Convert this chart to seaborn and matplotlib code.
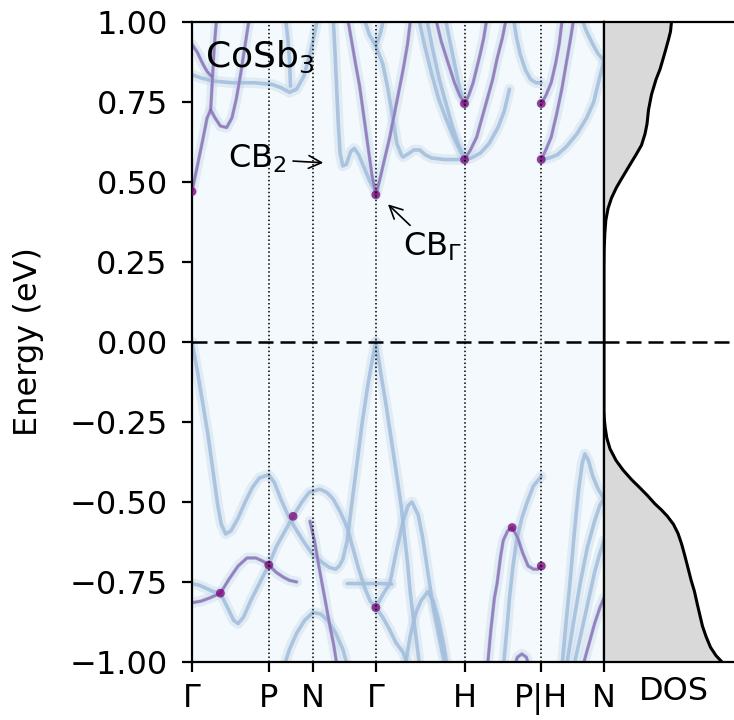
import matplotlib
matplotlib.use('Agg')
import matplotlib.pyplot as plt
import seaborn as sns
import pandas as pd

# high-symmetry points along the bcc path
kpath = [0.0, 0.866, 1.366, 2.073, 3.073, 3.939, 4.646]
klabels = ['Γ', 'P', 'N', 'Γ', 'H', 'P|H', 'N']

# ---- conduction bands (k, E in eV) ----
cb_g0_low = [(0, 0.47), (0.06, 0.55), (0.12, 0.63), (0.17, 0.70), (0.21, 0.725), (0.26, 0.70),
             (0.32, 0.675), (0.39, 0.67), (0.45, 0.70), (0.50, 0.76), (0.55, 0.84), (0.60, 0.93), (0.65, 1.02)]
cb_g0_steep = [(0.21, 0.725), (0.23, 0.82), (0.25, 0.92), (0.28, 1.02)]
cb_g0_top = [(0, 0.93), (0.06, 0.905), (0.12, 0.87), (0.17, 0.845), (0.22, 0.83)]
cb_flat = [(0, 0.835), (0.1, 0.825), (0.25, 0.815), (0.45, 0.81), (0.7, 0.81), (0.9, 0.805), (1.0, 0.795),
           (1.1, 0.78), (1.18, 0.79), (1.26, 0.83), (1.33, 0.90), (1.38, 0.96), (1.42, 1.02)]
cb_pn_top = [(1.05, 1.02), (1.08, 0.95), (1.10, 0.88), (1.11, 0.80)]
cb_2 = [(1.59, 1.02), (1.61, 0.92), (1.63, 0.80), (1.65, 0.68), (1.67, 0.59), (1.70, 0.55), (1.74, 0.555),
        (1.79, 0.595), (1.83, 0.605), (1.88, 0.585), (1.94, 0.545), (2.0, 0.505), (2.073, 0.47)]
cb_g_left = [(1.75, 1.02), (1.80, 0.94), (1.85, 0.86), (1.89, 0.80), (1.94, 0.70), (1.99, 0.60),
             (2.03, 0.52), (2.073, 0.46)]
cb_g1_top = [(1.93, 1.02), (2.0, 0.96), (2.073, 0.925), (2.15, 0.87), (2.21, 0.79), (2.27, 0.69),
             (2.31, 0.62), (2.36, 0.585), (2.38, 0.578), (2.45, 0.59), (2.5, 0.60), (2.57, 0.60),
             (2.63, 0.585), (2.7, 0.575), (2.85, 0.57), (3.0, 0.57), (3.073, 0.57)]
cb_g1_up = [(2.073, 0.925), (2.12, 0.96), (2.17, 1.02)]
cb_g_right = [(2.073, 0.46), (2.12, 0.51), (2.17, 0.57), (2.23, 0.64), (2.28, 0.71), (2.33, 0.78),
              (2.38, 0.85), (2.43, 0.93), (2.47, 1.02)]
cb_h_a = [(2.55, 1.02), (2.62, 0.93), (2.70, 0.84), (2.78, 0.76), (2.86, 0.70), (2.95, 0.64), (3.02, 0.60), (3.073, 0.57)]
cb_h_b = [(2.64, 1.02), (2.71, 0.92), (2.79, 0.82), (2.87, 0.74), (2.94, 0.67), (3.0, 0.62), (3.073, 0.575)]
cb_h_c = [(2.74, 1.02), (2.81, 0.94), (2.89, 0.87), (2.96, 0.81), (3.02, 0.77), (3.073, 0.745)]
cb_h_d = [(2.85, 1.02), (2.90, 0.95), (2.96, 0.87), (3.02, 0.79), (3.073, 0.745)]
cb_h_up = [(3.073, 0.745), (3.12, 0.77), (3.17, 0.81), (3.21, 0.855), (3.25, 0.90), (3.29, 0.95), (3.33, 1.02)]
cb_h_low = [(3.073, 0.57), (3.14, 0.60), (3.21, 0.64), (3.27, 0.70), (3.33, 0.76), (3.39, 0.82),
            (3.44, 0.885), (3.50, 0.95), (3.55, 1.02)]
cb_h_soft = [(3.073, 0.57), (3.15, 0.575), (3.25, 0.59), (3.35, 0.62), (3.45, 0.67), (3.52, 0.72), (3.58, 0.79)]
cb_p_top = [(3.62, 1.02), (3.66, 0.95), (3.70, 0.90), (3.76, 0.85), (3.82, 0.82), (3.88, 0.81), (3.939, 0.81)]
cb_ph_up = [(3.939, 0.745), (3.99, 0.77), (4.05, 0.81), (4.10, 0.87), (4.14, 0.93), (4.18, 1.02)]
cb_ph_low = [(3.939, 0.57), (3.99, 0.60), (4.05, 0.64), (4.11, 0.71), (4.17, 0.79), (4.22, 0.87),
             (4.27, 0.95), (4.31, 1.02)]
cb_ph_soft = [(3.939, 0.57), (4.03, 0.575), (4.12, 0.585), (4.22, 0.61), (4.34, 0.65), (4.45, 0.70),
              (4.53, 0.75), (4.60, 0.83), (4.646, 0.88)]
cb_n_top = [(4.38, 1.02), (4.45, 0.97), (4.52, 0.93), (4.58, 0.90), (4.646, 0.88)]

# ---- valence bands ----
vb_top = [(0, 0.0), (0.06, -0.09), (0.12, -0.19), (0.18, -0.29), (0.24, -0.41), (0.29, -0.51), (0.33, -0.57),
          (0.38, -0.60), (0.44, -0.59), (0.52, -0.55), (0.60, -0.50), (0.68, -0.455), (0.76, -0.425),
          (0.866, -0.415), (0.93, -0.44), (1.0, -0.49), (1.08, -0.54), (1.16, -0.58), (1.25, -0.62),
          (1.35, -0.66), (1.45, -0.685), (1.55, -0.705), (1.62, -0.71), (1.66, -0.70), (1.70, -0.68),
          (1.75, -0.62), (1.80, -0.51), (1.86, -0.38), (1.92, -0.25), (1.98, -0.14), (2.03, -0.06), (2.073, 0.0)]
vb_g1_right = [(2.073, 0.0), (2.13, -0.10), (2.19, -0.20), (2.25, -0.31), (2.31, -0.42), (2.36, -0.515),
               (2.39, -0.59), (2.43, -0.69), (2.46, -0.78), (2.49, -0.85), (2.53, -0.93), (2.57, -1.02)]
vb_heavy = [(0, -0.815), (0.1, -0.81), (0.2, -0.80), (0.32, -0.785), (0.42, -0.74), (0.52, -0.70),
            (0.62, -0.675), (0.72, -0.675), (0.80, -0.685), (0.866, -0.697), (0.95, -0.72), (1.03, -0.735),
            (1.10, -0.745), (1.18, -0.75)]
vb_cross = [(0, -0.755), (0.08, -0.76), (0.16, -0.77), (0.24, -0.78), (0.32, -0.785), (0.40, -0.83),
            (0.47, -0.87), (0.52, -0.88), (0.58, -0.86), (0.66, -0.81), (0.75, -0.76), (0.866, -0.697),
            (0.95, -0.64), (1.03, -0.60), (1.14, -0.545), (1.24, -0.50), (1.32, -0.47), (1.44, -0.46),
            (1.52, -0.47), (1.59, -0.49), (1.67, -0.53), (1.75, -0.58), (1.82, -0.65), (1.88, -0.71),
            (1.95, -0.77), (2.01, -0.81), (2.073, -0.83)]
vb_flat = [(1.75, -0.755), (1.85, -0.755), (1.95, -0.755), (2.073, -0.755), (2.15, -0.755), (2.25, -0.757)]
vb_max = [(2.073, -0.83), (2.15, -0.79), (2.23, -0.755), (2.30, -0.66), (2.38, -0.56), (2.44, -0.51),
          (2.48, -0.50), (2.55, -0.54), (2.60, -0.61), (2.66, -0.72), (2.72, -0.83), (2.80, -0.94), (2.86, -1.02)]
vb_g1_down = [(2.073, -0.83), (2.15, -0.86), (2.23, -0.90), (2.30, -0.94), (2.38, -0.97), (2.45, -1.02)]
vb_bump = [(2.40, -1.02), (2.46, -0.92), (2.52, -0.85), (2.58, -0.81), (2.66, -0.78), (2.72, -0.81),
           (2.78, -0.87), (2.84, -0.95), (2.88, -1.02)]
vb_n_steep = [(1.33, -0.56), (1.38, -0.62), (1.43, -0.70), (1.49, -0.79), (1.55, -0.88), (1.60, -0.95), (1.64, -1.02)]
vb_n_low = [(1.03, -1.02), (1.10, -0.96), (1.18, -0.91), (1.27, -0.87), (1.366, -0.845), (1.45, -0.85),
            (1.53, -0.87), (1.62, -0.91), (1.70, -0.96), (1.76, -1.02)]
vb_hp = [(3.33, -1.02), (3.37, -0.90), (3.41, -0.80), (3.44, -0.755), (3.48, -0.67), (3.51, -0.62),
         (3.56, -0.59), (3.61, -0.58), (3.67, -0.61), (3.73, -0.66), (3.79, -0.70), (3.85, -0.71),
         (3.90, -0.71), (3.939, -0.70)]
vb_hp_soft = [(3.51, -1.02), (3.55, -0.90), (3.58, -0.80), (3.62, -0.70), (3.66, -0.62), (3.72, -0.55),
              (3.78, -0.50), (3.85, -0.45), (3.939, -0.42)]
vb_hp_arc = [(3.63, -1.02), (3.67, -0.985), (3.72, -0.975), (3.77, -0.985), (3.81, -1.02)]
vb_hn_peak = [(4.17, -1.02), (4.21, -0.90), (4.26, -0.76), (4.31, -0.60), (4.36, -0.46), (4.40, -0.38),
              (4.43, -0.35), (4.47, -0.37), (4.52, -0.42), (4.58, -0.46), (4.646, -0.49)]
vb_hn_a = [(4.22, -1.02), (4.30, -0.88), (4.38, -0.75), (4.46, -0.64), (4.54, -0.56), (4.60, -0.51), (4.646, -0.49)]
vb_hn_b = [(4.30, -1.02), (4.38, -0.92), (4.46, -0.82), (4.54, -0.72), (4.60, -0.66), (4.646, -0.62)]
vb_hn_c = [(4.40, -1.02), (4.47, -0.95), (4.54, -0.88), (4.60, -0.83), (4.646, -0.80)]

blue_bands = [cb_flat, cb_pn_top, cb_2, cb_g1_top, cb_g1_up, cb_h_a, cb_h_b, cb_h_d, cb_h_soft, cb_p_top,
              cb_ph_soft, cb_n_top, vb_top, vb_g1_right, vb_cross, vb_flat, vb_max, vb_g1_down, vb_bump,
              vb_n_low, vb_hp_soft, vb_hn_peak, vb_hn_a, vb_hn_b]
purple_bands = [cb_g0_low, cb_g0_steep, cb_g0_top, cb_g_left, cb_g_right, cb_h_c, cb_h_up, cb_h_low,
                cb_ph_up, cb_ph_low, vb_heavy, vb_n_steep, vb_hp, vb_hp_arc, vb_hn_c]

# bright spots where bands pile up
hot_k = [2.073, 3.073, 3.073, 3.939, 3.939, 0.866, 2.073, 0.32, 3.61, 3.939, 0.0, 1.14]
hot_e = [0.46, 0.57, 0.745, 0.57, 0.745, -0.697, -0.83, -0.785, -0.58, -0.70, 0.47, -0.545]

# density of states (arb. units)
dos_e = [1.0, 0.97, 0.945, 0.90, 0.852, 0.82, 0.773, 0.725, 0.681, 0.65, 0.615, 0.585, 0.549, 0.515, 0.483,
         0.45, 0.417, 0.38, 0.338, 0.29, 0.233, 0.0, -0.216, -0.245, -0.268, -0.30, -0.334, -0.37, -0.40,
         -0.43, -0.453, -0.48, -0.506, -0.525, -0.545, -0.57, -0.598, -0.63, -0.664, -0.70, -0.743, -0.78,
         -0.822, -0.855, -0.888, -0.92, -0.954, -0.98, -1.0]
dos_v = [6.75, 6.65, 6.45, 6.05, 5.6, 5.2, 4.75, 4.45, 4.3, 4.1, 3.75, 3.2, 2.5, 1.85, 1.25,
         0.75, 0.4, 0.18, 0.08, 0.02, 0.0, 0.0, 0.0, 0.04, 0.12, 0.28,
         0.6, 1.2, 1.9, 2.75, 3.5, 4.35, 5.1, 5.75, 6.35, 6.95, 7.4, 7.75, 8.05, 8.35, 8.7, 9.05,
         9.35, 9.6, 9.85, 10.2, 10.65, 11.2, 11.8]


def to_frame(bands, tag):
    rows = []
    for i, b in enumerate(bands):
        for k, e in b:
            rows.append({'band': f'{tag}{i}', 'k': k, 'E': e})
    return pd.DataFrame(rows)


sns.set_style('ticks', rc={'axes.edgecolor': 'k', 'text.color': 'k', 'axes.labelcolor': 'k',
                           'xtick.color': 'k', 'ytick.color': 'k'})
plt.rcParams['font.family'] = ['DejaVu Sans']
plt.rcParams['font.size'] = 23
plt.rcParams['axes.linewidth'] = 1.6

blue = to_frame(blue_bands, 'b')
purple = to_frame(purple_bands, 'p')
allb = pd.concat([blue, purple])

fig = plt.figure(figsize=(7.34, 7.2), dpi=100)
ax = fig.add_axes([0.2616, 0.0806, 0.5613, 0.8889])
ax2 = fig.add_axes([0.8229, 0.0806, 0.19, 0.8889])

ax.set_facecolor('#f3f9fc')
common = dict(x='k', y='E', units='band', estimator=None, sort=False, legend=False, ax=ax)
sns.lineplot(data=allb, color='#c6d9eb', lw=7.5, alpha=0.42, **common)
sns.lineplot(data=allb, color='#a3bedd', lw=2.6, alpha=0.88, **common)
sns.lineplot(data=purple, color='#8e55a9', lw=1.9, alpha=0.62, **common)
sns.scatterplot(x=hot_k, y=hot_e, s=40, color='#7a0177', alpha=0.75, edgecolor='none', ax=ax, zorder=3)

for kx in kpath[1:-1]:
    ax.axvline(kx, color='k', ls=(0, (1, 1.6)), lw=1.1, zorder=4)
ax.axhline(0, color='k', ls=(0, (6, 2.8)), lw=1.8, zorder=4)

ax.set_xlim(kpath[0], kpath[-1])
ax.set_ylim(-1, 1)
ax.set_xticks(kpath)
ax.set_xticklabels(klabels)
ax.set_yticks([-1, -0.75, -0.5, -0.25, 0, 0.25, 0.5, 0.75, 1])
ax.tick_params(axis='x', direction='out', length=7.5, width=1.6, pad=8)
ax.tick_params(axis='y', direction='out', length=7.5, width=1.6, pad=10)
ax.set_xlabel('')
ax.set_ylabel('Energy (eV)', labelpad=18)

ax.text(0.147, 0.86, 'CoSb$_3$', ha='left', va='baseline', fontsize=26)
ax.annotate('CB$_2$', xy=(1.48, 0.56), xytext=(0.41, 0.544), ha='left', va='baseline',
            arrowprops=dict(arrowstyle='->', color='k', lw=1.2, shrinkA=2, shrinkB=0))
ax.annotate('CB$_\\Gamma$', xy=(2.21, 0.43), xytext=(2.38, 0.27), ha='left', va='baseline',
            arrowprops=dict(arrowstyle='->', color='k', lw=1.2, shrinkA=2, shrinkB=0))

# DOS panel
ax2.fill_betweenx(dos_e, 0, dos_v, color='#d9d9d9', lw=0)
sns.lineplot(x=dos_v, y=dos_e, sort=False, estimator=None, color='k', lw=2.2, ax=ax2)
ax2.axhline(0, color='k', ls=(0, (6, 2.8)), lw=1.8)
ax2.set_xlim(0, 13.95)
ax2.set_ylim(-1, 1)
ax2.set_xticks([])
ax2.set_yticks([])
ax2.set_ylabel('')
ax2.set_xlabel('DOS', labelpad=10)
ax2.spines['right'].set_visible(False)

fig.savefig('out.png', dpi=100)
